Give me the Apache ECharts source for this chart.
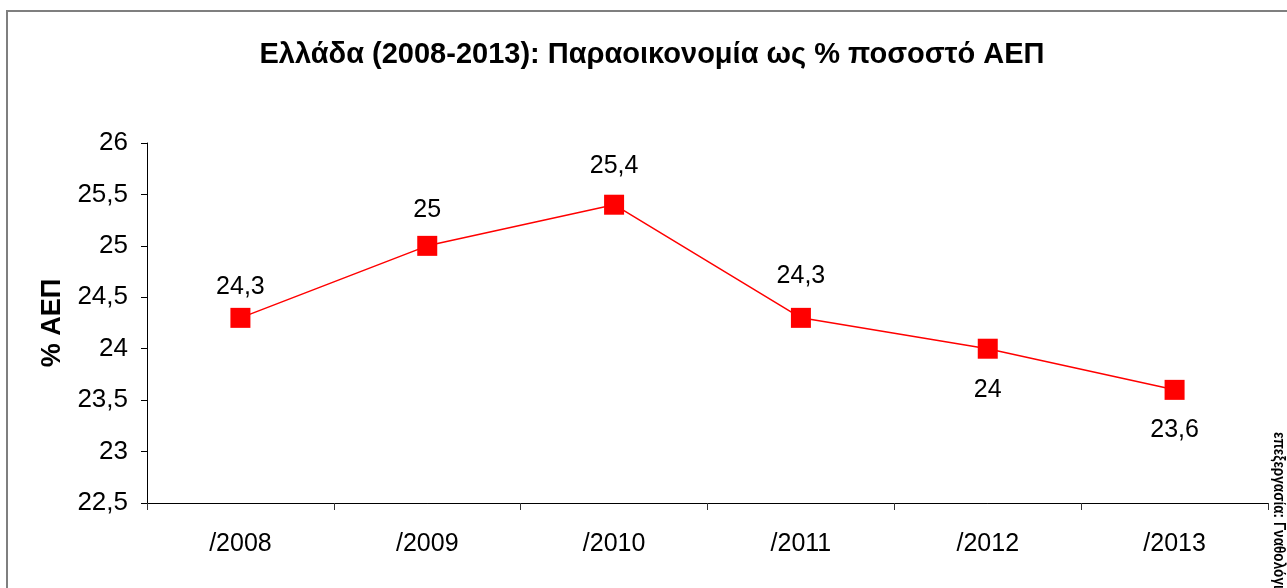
<!DOCTYPE html>
<html>
<head>
<meta charset="utf-8">
<script src="https://cdn.jsdelivr.net/npm/echarts@6/dist/echarts.min.js"></script>
<style>
  html, body { margin: 0; padding: 0; background: #fff; }
  #chart { width: 1287px; height: 588px; }
</style>
</head>
<body>
<div id="chart"></div>
<script>
// values
var years = ['/2008', '/2009', '/2010', '/2011', '/2012', '/2013'];
var shadowEconomy = [24.3, 25, 25.4, 24.3, 24, 23.6];
var labelBelow = [false, false, false, false, true, true];
var labelGap = [8, 13, 16, 19, 19, 18];

var font = '"Liberation Sans", Arial, sans-serif';
var comma = function (v) { return String(v).replace('.', ','); };

var myChart = echarts.init(document.getElementById('chart'));

var points = shadowEconomy.map(function (v, i) {
    return {
        value: v,
        label: { position: labelBelow[i] ? 'bottom' : 'top', distance: labelGap[i] }
    };
});

var option = {
    backgroundColor: '#fff',
    animation: false,
    title: {
        text: 'Ελλάδα (2008-2013): Παραοικονομία ως % ποσοστό ΑΕΠ',
        left: 647,
        textAlign: 'center',
        top: 35,
        textStyle: { fontFamily: font, fontSize: 29, fontWeight: 'bold', color: '#000' }
    },
    grid: { left: 147, right: 19, top: 143, bottom: 85 },
    xAxis: {
        type: 'category',
        data: years,
        boundaryGap: true,
        axisLine: { lineStyle: { color: '#000', width: 1 } },
        axisTick: { show: true, length: 7, alignWithLabel: false, lineStyle: { color: '#333' } },
        axisLabel: { fontFamily: font, fontSize: 25, color: '#000', margin: 29 }
    },
    yAxis: {
        type: 'value',
        min: 22.5,
        max: 26,
        interval: 0.5,
        name: '% ΑΕΠ',
        nameLocation: 'middle',
        nameGap: 80,
        nameRotate: 90,
        nameTextStyle: { fontFamily: font, fontSize: 27, fontWeight: 'bold', color: '#000' },
        axisLine: { show: true, lineStyle: { color: '#000', width: 1 } },
        axisTick: { show: true, length: 6, inside: false, lineStyle: { color: '#000' } },
        splitLine: { show: false },
        axisLabel: {
            fontFamily: font, fontSize: 26, color: '#000', margin: 19,
            formatter: comma
        }
    },
    series: [{
        type: 'line',
        data: points,
        symbol: 'rect',
        symbolSize: 20,
        itemStyle: { color: '#ff0000' },
        lineStyle: { color: '#ff0000', width: 1.5 },
        label: {
            show: true,
            fontFamily: font,
            fontSize: 25,
            color: '#000',
            formatter: function (p) { return comma(p.value); }
        }
    }],
    graphic: [
        {
            type: 'rect',
            shape: { x: 7, y: 11, width: 1320, height: 620 },
            style: { fill: null, stroke: '#7f7f7f', lineWidth: 2 },
            silent: true
        },
        {
            type: 'text',
            x: 1286,
            y: 432,
            rotation: -Math.PI / 2,
            scaleX: 0.85,
            style: {
                text: 'επεξεργασία: Γναθολόγιο',
                fontFamily: font,
                fontSize: 16,
                fontWeight: 'bold',
                fill: '#000'
            },
            silent: true
        }
    ]
};

myChart.setOption(option);
</script>
</body>
</html>
